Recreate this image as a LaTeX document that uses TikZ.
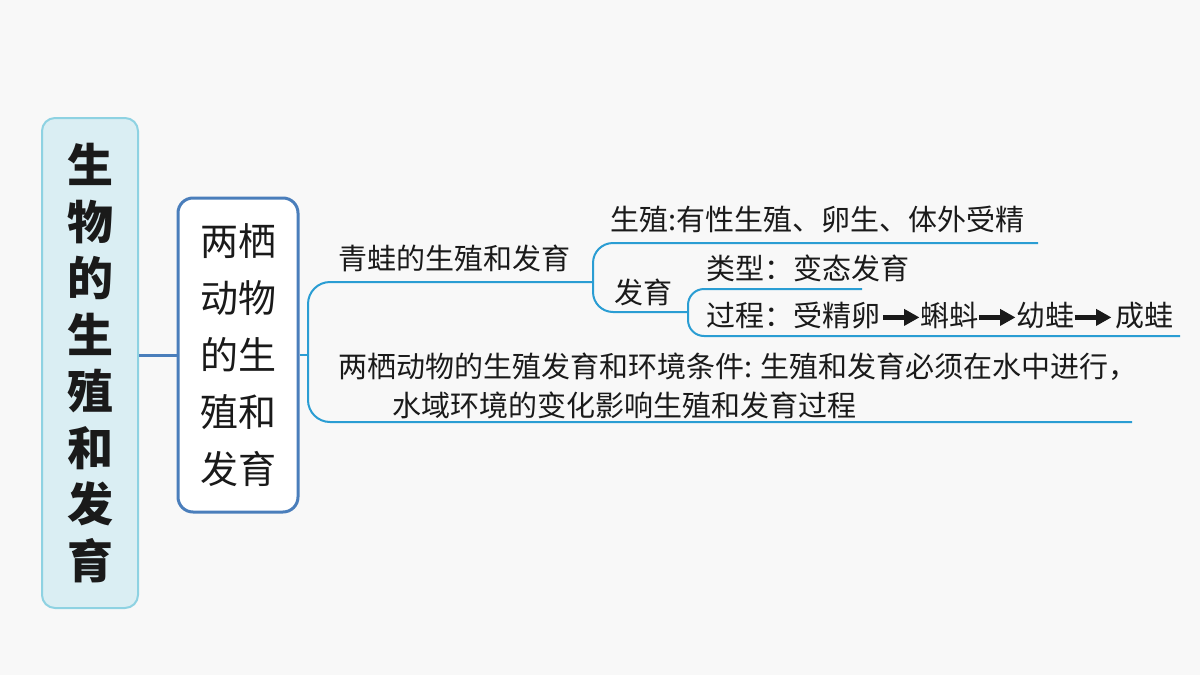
\documentclass[tikz,border=0pt]{standalone}
\usepackage{fontspec}
\setmainfont{Noto Sans CJK SC}
\usetikzlibrary{calc}
\definecolor{bgc}{HTML}{F8F8F8}
\definecolor{rootfill}{HTML}{DAEEF3}
\definecolor{rootdraw}{HTML}{8ED2E2}
\definecolor{boxdraw}{HTML}{4A7EBB}
\definecolor{branch}{HTML}{2A9DD3}
\definecolor{txt}{HTML}{1A1A1A}
\newcommand{\bigarrow}{\tikz[baseline=-0.33em]{\fill[txt] (0pt,-2.4pt) -- (21pt,-2.4pt) -- (21pt,-8.5pt) -- (36pt,0pt) -- (21pt,8.5pt) -- (21pt,2.4pt) -- (0pt,2.4pt) -- cycle;}}
\tikzset{
  lbl/.style={anchor=west, inner sep=0pt, text=txt, font=\fontsize{29}{34}\selectfont},
  br/.style={draw=branch, line width=2pt, rounded corners=22pt},
}
\begin{document}
\begin{tikzpicture}[x=1pt,y=-1pt]
\fill[bgc] (0,0) rectangle (1200,675);
\useasboundingbox (0,0) rectangle (1200,675);
% root
\node[draw=rootdraw, fill=rootfill, line width=2pt, rounded corners=13pt,
      minimum width=96pt, minimum height=490pt, inner sep=0pt, align=center,
      text=txt, font=\bfseries\fontsize{46}{56.5}\selectfont] (root) at (90,363)
      {\raisebox{-9pt}{\parbox{60pt}{\centering 生\\物\\的\\生\\殖\\和\\发\\育}}};
% second box
\node[draw=boxdraw, fill=white, line width=3pt, rounded corners=15pt,
      minimum width=120pt, minimum height=314pt, inner sep=0pt, align=center,
      text=txt, font=\fontsize{38}{57}\selectfont] (amph) at (238,355)
      {\raisebox{-5pt}{\parbox{110pt}{\centering 两栖\\动物\\的生\\殖和\\发育}}};
\draw[draw=boxdraw, line width=3pt] (root.east |- amph.west) -- (amph.west);
% brace 1
\coordinate (b1) at (308,355);
\coordinate (b1t) at (593,282);
\coordinate (b1e) at (1132,422);
\draw[br] (amph.east) -- (b1);
\draw[br] (b1t) -- (308,282) -- (308,422) -- (b1e);
\node[lbl] (frog) at (338,258) {青蛙的生殖和发育};
\node[lbl] (env1) at (338,367) {两栖动物的生殖发育和环境条件: 生殖和发育必须在水中进行，};
\node[lbl] (env2) at (392,405) {水域环境的变化影响生殖和发育过程};
% brace 2
\coordinate (b2t) at (1038,243);
\coordinate (b2b) at (688,312);
\draw[br, rounded corners=20pt] (b2t) -- (593,243) -- (593,312) -- (b2b);
\node[lbl] (repro) at (610,220) {生殖:有性生殖、卵生、体外受精};
\node[lbl] (dev) at (614,292) {发育};
% brace 3
\coordinate (b3t) at (862,289);
\coordinate (b3e) at (1180,336);
\draw[br, rounded corners=16pt] (b3t) -- (688,289) -- (688,336) -- (b3e);
\node[lbl] (type) at (706,268) {类型：变态发育};
\node[lbl] (proc) at (706,316) {过程：受精卵\hspace{3pt}\bigarrow\hspace{1pt}蝌蚪\hspace{1pt}\bigarrow\hspace{1pt}幼蛙\hspace{1pt}\bigarrow\hspace{4pt}成蛙};
\end{tikzpicture}
\end{document}
